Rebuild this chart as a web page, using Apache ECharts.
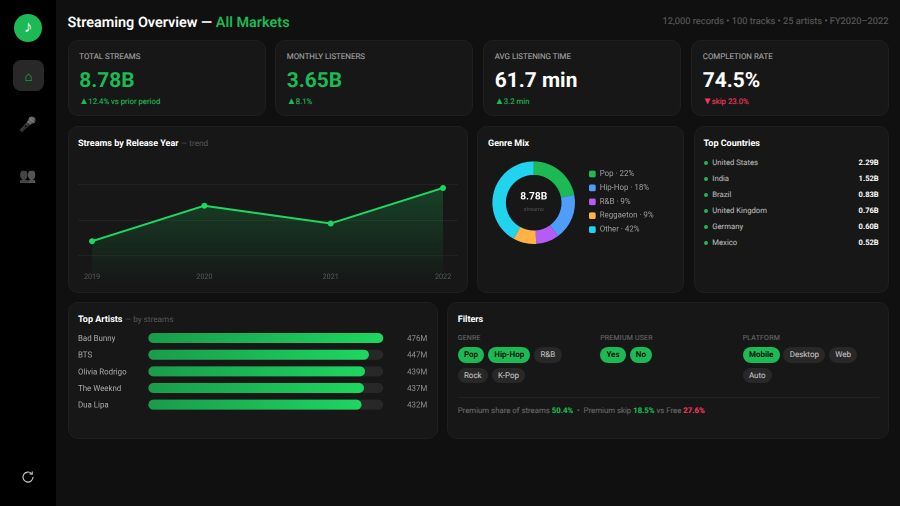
<!DOCTYPE html>
<html>
<head>
<meta charset="utf-8">
<title>Streaming Overview</title>
<script src="https://cdn.jsdelivr.net/npm/echarts@6/dist/echarts.min.js"></script>
<style>
  * { box-sizing: border-box; }
  html, body { margin: 0; padding: 0; width: 900px; height: 506px; overflow: hidden; background: #101010; color: #fff; font-family: Roboto, sans-serif; font-weight: 400; text-rendering: geometricPrecision; }
  .abs { position: absolute; white-space: nowrap; }
  #side { position: absolute; left: 0; top: 0; width: 56px; height: 506px; background: #000; }
  #logo { position: absolute; left: 14px; top: 14px; width: 28px; height: 28px; border-radius: 50%; background: #1db954; color: #fff; font-size: 16.5px; font-weight: 700; line-height: 28px; text-align: center; }
  #home { position: absolute; left: 13px; top: 60px; width: 31px; height: 31px; border-radius: 8px; background: #282828; color: #1db954; font-size: 13.5px; line-height: 35px; text-align: center; }
  .nav { position: absolute; left: 13px; width: 31px; text-align: center; font-size: 14px; line-height: 20px; filter: grayscale(1); opacity: .65; }
  .card { position: absolute; background: #171717; border: 1px solid #1f1f1f; border-radius: 10px; }
  .thin { -webkit-text-stroke: .12px currentColor; }
  .green { color: #1db954; }
  .red { color: #f0395f; }
  .head { font-size: 9px; font-weight: 700; color: #fff; line-height: 12px; }
  .head span { font-weight: 400; font-size: 8.2px; color: #5a5a5a; }
  .klabel { font-size: 7.9px; line-height: 12px; color: #a0a0a0; }
  .kvalue { font-size: 20.9px; line-height: 28px; font-weight: 700; }
  .kdelta { font-size: 7.75px; line-height: 12px; }
  .tri { display: inline-block; width: 9px; font-size: 9.5px; line-height: 12px; vertical-align: top; }
  .chart { position: absolute; }
  .dot { position: absolute; width: 4.4px; height: 4.4px; border-radius: 50%; background: #1db954; }
  .flabel { position: absolute; font-size: 7px; line-height: 10px; color: #666; letter-spacing: .2px; }
  .pills { position: absolute; width: 132.5px; display: flex; flex-wrap: wrap; gap: 5px 3.75px; }
  .pill { height: 15.7px; line-height: 15.7px; padding: 0 6.25px; border-radius: 8px; background: #282828; color: #bbb; font-size: 8px; }
  .pill.on { background: #1db954; color: #0a0a0a; font-weight: 600; }
</style>
</head>
<body>
<div id="side">
  <div id="logo">♪</div>
  <div id="home">⌂</div>
  <div class="nav" style="top:115px">🎤</div>
  <div class="nav" style="top:166px">👥</div>
  <svg class="abs" style="left:21px;top:470px" width="14" height="14" viewBox="0 0 14 14" fill="none" stroke="#c8c8c8" stroke-width="1.1">
    <path d="M10.6 3.6 A5 5 0 1 0 12 7"/>
    <path d="M8.6 3.9 L11.2 4.1 L11.3 1.4"/>
  </svg>
</div>
<div class="abs" style="left:67.5px;top:11.5px;font-size:14.45px;line-height:21px;font-weight:600">Streaming Overview — <span class="green">All Markets</span></div>
<div class="abs thin" style="right:11.5px;top:15.5px;font-size:9.3px;line-height:12px;color:#5a5a5a">12,000 records • 100 tracks • 25 artists • FY2020–2022</div>
<div id="kpis"></div>

<div class="card" style="left:67.5px;top:126px;width:400px;height:167px"></div>
<div class="card" style="left:477px;top:126px;width:207px;height:167px"></div>
<div class="card" style="left:693.5px;top:126px;width:195px;height:167px"></div>
<div class="card" style="left:67.5px;top:302px;width:370px;height:137px"></div>
<div class="card" style="left:447px;top:302px;width:441.5px;height:137px"></div>

<div class="abs head" style="left:78px;top:138px">Streams by Release Year <span>— trend</span></div>
<div class="abs head" style="left:488px;top:138px">Genre Mix</div>
<div class="abs head" style="left:703.5px;top:138px">Top Countries</div>
<div class="abs head" style="left:78px;top:314px">Top Artists <span>— by streams</span></div>
<div class="abs head" style="left:457.7px;top:314px">Filters</div>

<div id="trend" class="chart" style="left:68px;top:127px;width:399px;height:165px"></div>
<div id="genre" class="chart" style="left:478px;top:127px;width:205px;height:165px"></div>
<div id="artists" class="chart" style="left:68px;top:303px;width:369px;height:135px"></div>
<div id="countries"></div>
<div id="filters"></div>
<div class="abs" style="left:457.7px;top:396.5px;width:421px;height:1px;background:#222"></div>
<div class="abs thin" style="left:457.7px;top:404.5px;font-size:7.8px;line-height:12px;color:#666">Premium share of streams <b class="green">50.4%</b> &nbsp;•&nbsp; Premium skip <b class="green">18.5%</b> vs Free <b class="red">27.6%</b></div>

<script>
// kpi cards
const kpiLabels = ['TOTAL STREAMS', 'MONTHLY LISTENERS', 'AVG LISTENING TIME', 'COMPLETION RATE']
const kpiValues = ['8.78B', '3.65B', '61.7 min', '74.5%']
const kpiArrows = ['▲', '▲', '▲', '▼']
const kpiDeltas = ['12.4% vs prior period', '8.1%', '3.2 min', 'skip 23.0%']

// trend, x positions follow the reference's uneven spacing
const years = ['2019', '2020', '2021', '2022']
const yearPos = [2019, 2019.96, 2021.04, 2022]
const yearStreams = [2.08, 2.28, 2.18, 2.38]

// genre mix
const genres = ['Pop', 'Hip-Hop', 'R&B', 'Reggaeton', 'Other']
const genreShare = [22, 18, 9, 9, 42]
const genreColors = ['#1db954', '#4f9cf9', '#b45cf5', '#ffb347', '#22d3ee']

// top countries
const countries = ['United States', 'India', 'Brazil', 'United Kingdom', 'Germany', 'Mexico']
const countryStreams = ['2.29B', '1.52B', '0.83B', '0.76B', '0.60B', '0.52B']

// top artists
const artists = ['Bad Bunny', 'BTS', 'Olivia Rodrigo', 'The Weeknd', 'Dua Lipa']
const artistStreams = [476, 447, 439, 437, 432]

// filters
const filterGroups = ['GENRE', 'PREMIUM USER', 'PLATFORM']
const filterOptions = [['Pop', 'Hip-Hop', 'R&B', 'Rock', 'K-Pop'], ['Yes', 'No'], ['Mobile', 'Desktop', 'Web', 'Auto']]
const filterActive = [['Pop', 'Hip-Hop'], ['Yes', 'No'], ['Mobile']]

const FONT = 'Roboto, sans-serif'
// render canvases above screen res so small text is not hinted
const INIT = {devicePixelRatio: 2}

// html parts
const kpiLeft = [67.5, 275, 483, 691]
const kpiWrap = document.getElementById('kpis')
kpiLabels.forEach((label, i) => {
  const valueClass = i < 2 ? 'green' : ''
  const deltaClass = i < 3 ? 'green' : 'red'
  kpiWrap.innerHTML +=
    `<div class="card" style="left:${kpiLeft[i]}px;top:40px;width:198px;height:76px"></div>` +
    `<div class="abs klabel thin" style="left:${kpiLeft[i] + 11.8}px;top:50.5px">${label}</div>` +
    `<div class="abs kvalue ${valueClass}" style="left:${kpiLeft[i] + 11.8}px;top:66.5px">${kpiValues[i]}</div>` +
    `<div class="abs kdelta thin ${deltaClass}" style="left:${kpiLeft[i] + 11.8}px;top:95.5px"><span class="tri">${kpiArrows[i]}</span>${kpiDeltas[i]}</div>`
})

const countryWrap = document.getElementById('countries')
countries.forEach((name, i) => {
  const y = 162.7 + i * 16
  countryWrap.innerHTML +=
    `<div class="dot" style="left:703.8px;top:${y - 2.2}px"></div>` +
    `<div class="abs thin" style="left:712.3px;top:${y - 6}px;font-size:7.7px;line-height:12px;color:#b0b0b0">${name}</div>` +
    `<div class="abs" style="right:21.3px;top:${y - 6}px;font-size:7.6px;line-height:12px;font-weight:700;color:#fff">${countryStreams[i]}</div>`
})

const filterWrap = document.getElementById('filters')
filterGroups.forEach((group, i) => {
  const x = 457.7 + i * 142.5
  const pills = filterOptions[i].map(o =>
    `<div class="pill ${filterActive[i].includes(o) ? 'on' : 'thin'}">${o.replace('&', '&amp;')}</div>`).join('')
  filterWrap.innerHTML +=
    `<div class="flabel thin" style="left:${x}px;top:332.5px">${group}</div>` +
    `<div class="pills" style="left:${x}px;top:347px">${pills}</div>`
})

// line chart
const trendChart = echarts.init(document.getElementById('trend'), null, INIT)
trendChart.setOption({
  animation: false,
  grid: {left: 10, top: 57.4, width: 380, height: 106.5},
  xAxis: {
    type: 'value', min: 2018.88, max: 2022.128,
    axisLine: {show: false}, axisTick: {show: false}, splitLine: {show: false},
    axisLabel: {
      inside: true, margin: 10, customValues: yearPos, color: '#5a5a5a', fontSize: 7.2, fontFamily: FONT,
      formatter: v => years[yearPos.indexOf(v)],
    },
  },
  yAxis: {
    type: 'value', min: 1.8, max: 2.4, interval: 0.2,
    axisLine: {show: false}, axisTick: {show: false}, axisLabel: {show: false},
    splitLine: {showMinLine: false, lineStyle: {color: '#212121', width: 1}},
  },
  series: [{
    type: 'line',
    data: yearPos.map((x, i) => [x, yearStreams[i]]),
    symbol: 'circle', symbolSize: 6,
    lineStyle: {color: '#1ed760', width: 2},
    itemStyle: {color: '#1ed760'},
    areaStyle: {
      color: new echarts.graphic.LinearGradient(0, 0, 0, 1, [
        {offset: 0, color: 'rgba(30,215,96,0.32)'},
        {offset: 0.9, color: 'rgba(30,215,96,0.01)'},
        {offset: 1, color: 'rgba(30,215,96,0)'},
      ]),
    },
  }],
})

// donut
const genreChart = echarts.init(document.getElementById('genre'), null, INIT)
genreChart.setOption({
  animation: false,
  color: genreColors,
  legend: {
    orient: 'vertical', left: 111, top: 42.5, padding: 0,
    itemWidth: 6.7, itemHeight: 6.7, itemGap: 4.9, icon: 'roundRect',
    textStyle: {color: '#a0a0a0', fontSize: 7.9, fontFamily: FONT, padding: [0, 0, 0, -1], lineHeight: 9},
    formatter: name => `${name} · ${genreShare[genres.indexOf(name)]}%`,
  },
  graphic: [
    {type: 'text', x: 55.7, y: 70, style: {text: '8.78B', fill: '#fff', font: `700 10.2px ${FONT}`, textAlign: 'center', textVerticalAlign: 'middle'}},
    {type: 'text', x: 55.7, y: 82.7, style: {text: 'streams', fill: '#555', font: `400 5.6px ${FONT}`, textAlign: 'center', textVerticalAlign: 'middle'}},
  ],
  series: [{
    type: 'pie',
    center: [55.7, 75.7],
    radius: [27.8, 41.3],
    startAngle: 90,
    label: {show: false},
    labelLine: {show: false},
    data: genres.map((name, i) => ({name, value: genreShare[i]})),
  }],
})

// artist bars
const artistChart = echarts.init(document.getElementById('artists'), null, INIT)
artistChart.setOption({
  animation: false,
  grid: {left: 80.3, top: 26.7, width: 235, height: 83.3},
  xAxis: {type: 'value', min: 0, max: artistStreams[0], show: false},
  yAxis: [
    {
      type: 'category', inverse: true, data: artists,
      axisLine: {show: false}, axisTick: {show: false},
      axisLabel: {align: 'left', margin: 70.3, color: '#b0b0b0', fontSize: 7.9, fontFamily: FONT, verticalAlign: 'top', lineHeight: 2},
    },
    {
      type: 'category', inverse: true, position: 'right', data: artistStreams.map(v => v + 'M'),
      axisLine: {show: false}, axisTick: {show: false},
      axisLabel: {align: 'right', margin: 44, color: '#909090', fontSize: 7.9, fontFamily: FONT, verticalAlign: 'top', lineHeight: 2},
    },
  ],
  series: [{
    type: 'bar',
    data: artistStreams,
    barWidth: 10,
    showBackground: true,
    backgroundStyle: {color: '#282828', borderRadius: 5},
    itemStyle: {
      borderRadius: 5,
      color: new echarts.graphic.LinearGradient(0, 0, 1, 0, [
        {offset: 0, color: '#1a9c4b'},
        {offset: 1, color: '#1ed760'},
      ]),
    },
  }],
})
</script>
</body>
</html>
